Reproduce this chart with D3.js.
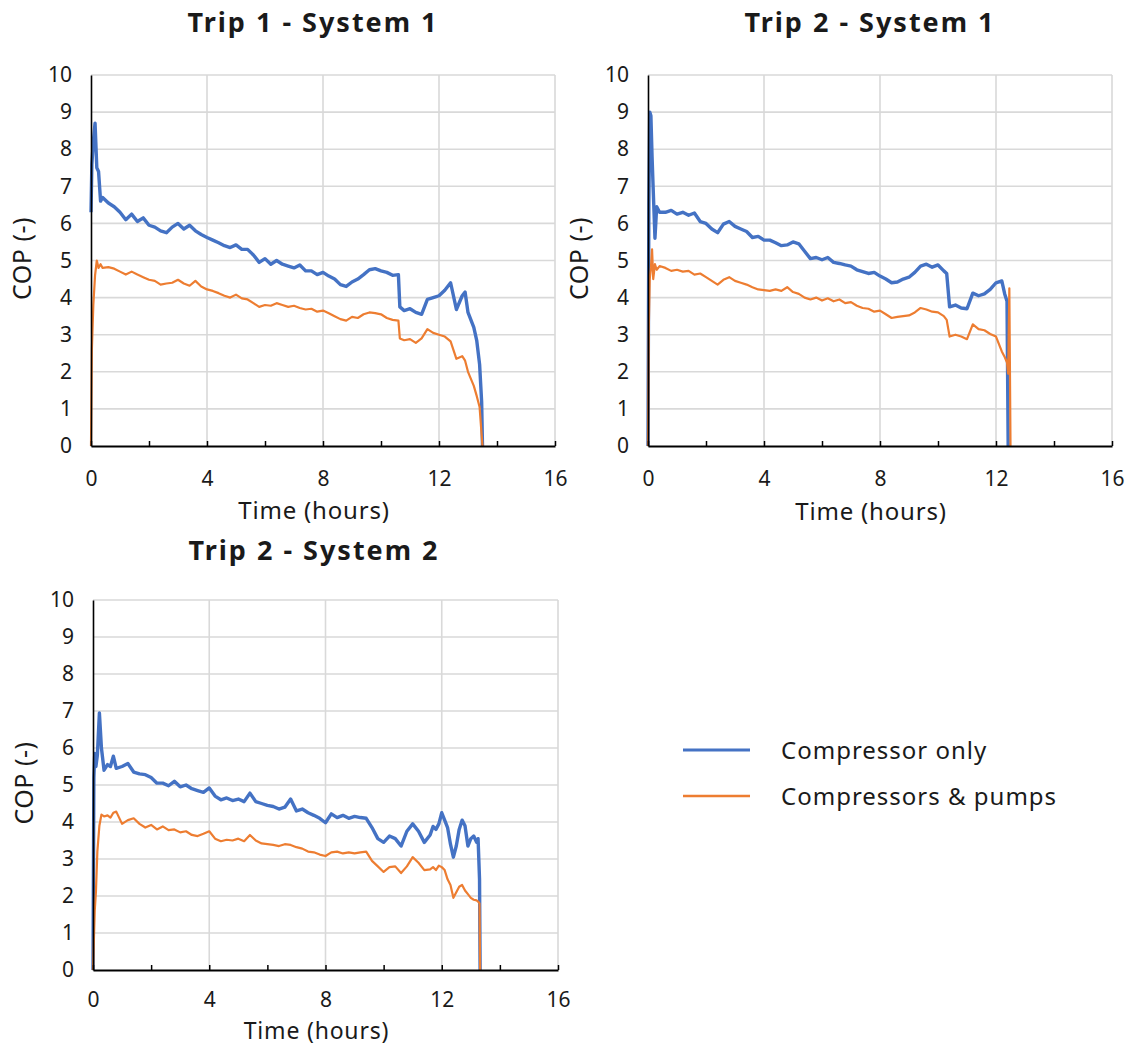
<!DOCTYPE html>
<html>
<head>
<meta charset="utf-8">
<script src="https://cdn.jsdelivr.net/npm/d3@7"></script>
<style>
  body { margin: 0; background: #fff; }
  svg { display: block; }
  text { font-family: "Noto Sans", "Open Sans", sans-serif; fill: #1a1a1a; }
</style>
</head>
<body>
<svg id="chart" width="1128" height="1047"></svg>
<script>
// ---------------- DATA ----------------
const seriesNames = ["Compressor only", "Compressors & pumps"];
const xTickValues = [0, 2, 4, 6, 8, 10, 12, 14, 16];
const xLabelValues = [0, 4, 8, 12, 16];
const yTickValues = [0, 1, 2, 3, 4, 5, 6, 7, 8, 9, 10];

// Trip 1 - System 1
const trip1Sys1Time = [
  0, 0.03, 0.08, 0.14, 0.2, 0.26, 0.33, 0.4, 0.6, 0.8,
  1.0, 1.2, 1.4, 1.6, 1.8, 2.0, 2.2, 2.4, 2.6, 2.8,
  3.0, 3.2, 3.4, 3.6, 3.8, 4.0, 4.2, 4.4, 4.6, 4.8,
  5.0, 5.2, 5.4, 5.6, 5.8, 6.0, 6.2, 6.4, 6.6, 6.8,
  7.0, 7.2, 7.4, 7.6, 7.8, 8.0, 8.2, 8.4, 8.6, 8.8,
  9.0, 9.2, 9.4, 9.6, 9.8, 10.0, 10.2, 10.4, 10.6, 10.65,
  10.8, 11.0, 11.2, 11.4, 11.6, 11.8, 12.0, 12.2, 12.4, 12.6,
  12.8, 12.9, 13.0, 13.2, 13.3, 13.4, 13.47, 13.5
];
const trip1Sys1Comp = [
  6.3, 7.6, 8.2, 8.7, 7.5, 7.4, 6.6, 6.7, 6.55, 6.45,
  6.30, 6.10, 6.25, 6.05, 6.15, 5.95, 5.90, 5.80, 5.75, 5.90,
  6.00, 5.85, 5.95, 5.80, 5.70, 5.62, 5.55, 5.48, 5.40, 5.35,
  5.42, 5.30, 5.30, 5.15, 4.95, 5.05, 4.90, 5.00, 4.90, 4.85,
  4.80, 4.88, 4.72, 4.72, 4.62, 4.68, 4.58, 4.50, 4.35, 4.30,
  4.42, 4.50, 4.62, 4.75, 4.78, 4.72, 4.68, 4.60, 4.62, 3.75,
  3.65, 3.70, 3.60, 3.55, 3.95, 4.00, 4.05, 4.20, 4.40, 3.68,
  4.05, 4.15, 3.60, 3.20, 2.85, 2.20, 1.20, 0
];
const trip1Sys1Pump = [
  0, 2.6, 3.8, 4.6, 5.0, 4.8, 4.9, 4.8, 4.82, 4.78,
  4.70, 4.62, 4.70, 4.62, 4.55, 4.48, 4.45, 4.35, 4.38, 4.40,
  4.48, 4.38, 4.32, 4.45, 4.30, 4.22, 4.18, 4.12, 4.05, 4.00,
  4.08, 3.98, 3.95, 3.85, 3.75, 3.80, 3.78, 3.85, 3.80, 3.75,
  3.78, 3.72, 3.68, 3.70, 3.62, 3.65, 3.58, 3.50, 3.42, 3.38,
  3.48, 3.45, 3.55, 3.60, 3.58, 3.55, 3.45, 3.40, 3.38, 2.90,
  2.85, 2.88, 2.78, 2.90, 3.15, 3.05, 3.00, 2.95, 2.82, 2.35,
  2.42, 2.30, 2.00, 1.62, 1.35, 1.05, 0.3, 0
];

// Trip 2 - System 1
const trip2Sys1Time = [
  0, 0.03, 0.06, 0.1, 0.14, 0.18, 0.24, 0.3, 0.4, 0.6,
  0.8, 1.0, 1.2, 1.4, 1.6, 1.8, 2.0, 2.2, 2.4, 2.6,
  2.8, 3.0, 3.2, 3.4, 3.6, 3.8, 4.0, 4.2, 4.4, 4.6,
  4.8, 5.0, 5.2, 5.4, 5.6, 5.8, 6.0, 6.2, 6.4, 6.6,
  6.8, 7.0, 7.2, 7.4, 7.6, 7.8, 8.0, 8.2, 8.4, 8.6,
  8.8, 9.0, 9.2, 9.4, 9.6, 9.8, 10.0, 10.2, 10.3, 10.4,
  10.6, 10.8, 11.0, 11.2, 11.4, 11.6, 11.8, 12.0, 12.2, 12.3,
  12.38, 12.42, 12.46, 12.5
];
const trip2Sys1Comp = [
  0, 6.5, 9.0, 8.9, 7.8, 6.9, 5.6, 6.45, 6.3, 6.30,
  6.35, 6.25, 6.30, 6.22, 6.28, 6.05, 6.00, 5.85, 5.75, 5.98,
  6.05, 5.92, 5.85, 5.78, 5.62, 5.65, 5.55, 5.55, 5.48, 5.40,
  5.42, 5.50, 5.45, 5.25, 5.05, 5.08, 5.02, 5.08, 4.95, 4.92,
  4.88, 4.85, 4.75, 4.70, 4.65, 4.68, 4.58, 4.50, 4.40, 4.42,
  4.50, 4.55, 4.68, 4.85, 4.90, 4.82, 4.88, 4.72, 4.65, 3.75,
  3.80, 3.72, 3.70, 4.12, 4.05, 4.10, 4.22, 4.40, 4.45, 4.10,
  3.90, 0, null, null
];
const trip2Sys1Pump = [
  0, 3.3, 4.5, 4.8, 5.3, 4.5, 4.9, 4.75, 4.85, 4.80,
  4.72, 4.75, 4.70, 4.72, 4.62, 4.65, 4.55, 4.45, 4.35, 4.48,
  4.55, 4.45, 4.40, 4.35, 4.28, 4.22, 4.20, 4.18, 4.22, 4.18,
  4.28, 4.15, 4.10, 4.00, 3.95, 4.00, 3.92, 3.98, 3.90, 3.95,
  3.85, 3.88, 3.78, 3.72, 3.70, 3.62, 3.65, 3.55, 3.45, 3.48,
  3.50, 3.52, 3.60, 3.72, 3.68, 3.62, 3.60, 3.50, 3.40, 2.95,
  3.00, 2.95, 2.88, 3.28, 3.15, 3.12, 3.02, 2.95, 2.55, 2.40,
  2.25, 1.95, 4.25, 0
];

// Trip 2 - System 2
const trip2Sys2Time = [
  0, 0.03, 0.06, 0.1, 0.15, 0.22, 0.29, 0.38, 0.5, 0.6,
  0.7, 0.8, 1.0, 1.2, 1.4, 1.6, 1.8, 2.0, 2.2, 2.4,
  2.6, 2.8, 3.0, 3.2, 3.4, 3.6, 3.8, 4.0, 4.2, 4.4,
  4.6, 4.8, 5.0, 5.2, 5.4, 5.6, 5.8, 6.0, 6.2, 6.4,
  6.6, 6.8, 7.0, 7.2, 7.4, 7.6, 7.8, 8.0, 8.2, 8.4,
  8.6, 8.8, 9.0, 9.2, 9.4, 9.6, 9.8, 10.0, 10.2, 10.4,
  10.6, 10.8, 11.0, 11.2, 11.4, 11.6, 11.7, 11.8, 11.9, 12.0,
  12.1, 12.2, 12.3, 12.4, 12.5, 12.6, 12.7, 12.8, 12.9, 13.0,
  13.1, 13.2, 13.25, 13.3, 13.32
];
const trip2Sys2Comp = [
  0, 5.2, 5.85, 5.5, 5.8, 6.95, 6.0, 5.4, 5.55, 5.5,
  5.78, 5.45, 5.50, 5.58, 5.35, 5.30, 5.28, 5.20, 5.05, 5.05,
  4.98, 5.10, 4.95, 5.00, 4.90, 4.85, 4.80, 4.92, 4.70, 4.60,
  4.65, 4.58, 4.62, 4.55, 4.78, 4.55, 4.50, 4.45, 4.42, 4.35,
  4.40, 4.62, 4.30, 4.35, 4.25, 4.18, 4.10, 3.98, 4.22, 4.12,
  4.18, 4.10, 4.15, 4.12, 4.10, 3.85, 3.55, 3.45, 3.62, 3.55,
  3.35, 3.75, 3.95, 3.75, 3.45, 3.65, 3.88, 3.80, 3.95, 4.25,
  4.05, 3.85, 3.40, 3.05, 3.35, 3.80, 4.05, 3.90, 3.35, 3.55,
  3.62, 3.45, 3.55, 2.45, 0
];
const trip2Sys2Pump = [
  0, 0.8, 1.6, 2.1, 3.2, 3.9, 4.2, 4.15, 4.18, 4.12,
  4.25, 4.28, 3.95, 4.05, 4.10, 3.95, 3.85, 3.92, 3.80, 3.88,
  3.78, 3.80, 3.72, 3.75, 3.65, 3.62, 3.68, 3.75, 3.55, 3.48,
  3.52, 3.50, 3.55, 3.48, 3.65, 3.50, 3.42, 3.40, 3.38, 3.35,
  3.40, 3.38, 3.32, 3.28, 3.20, 3.18, 3.12, 3.08, 3.18, 3.20,
  3.15, 3.18, 3.15, 3.18, 3.20, 2.95, 2.80, 2.65, 2.78, 2.80,
  2.62, 2.80, 3.05, 2.90, 2.70, 2.72, 2.78, 2.70, 2.82, 2.78,
  2.70, 2.45, 2.30, 1.95, 2.10, 2.25, 2.30, 2.15, 2.05, 1.95,
  1.90, 1.88, 1.85, 1.80, 0
];

// ---------------- LAYOUT ----------------
const colors = ["#4472C4", "#ED7D31"];
const strokeWidths = [3.4, 2.2];
const fontStack = '"Noto Sans", "Open Sans", sans-serif';

const panels = [
  { title: "Trip 1 - System 1", time: trip1Sys1Time, series: [trip1Sys1Comp, trip1Sys1Pump],
    left: 91, right: 555, top: 75, bottom: 446, titleX: 313, titleY: 32, xTitleY: 519, xTitleSize: 24, tickPad: 25 },
  { title: "Trip 2 - System 1", time: trip2Sys1Time, series: [trip2Sys1Comp, trip2Sys1Pump],
    left: 648, right: 1112, top: 75, bottom: 446, titleX: 870, titleY: 32, xTitleY: 520, xTitleSize: 24, tickPad: 25 },
  { title: "Trip 2 - System 2", time: trip2Sys2Time, series: [trip2Sys2Comp, trip2Sys2Pump],
    left: 93, right: 558, top: 600, bottom: 970, titleX: 314, titleY: 560, xTitleY: 1039, xTitleSize: 23, tickPad: 22 }
];

const svg = d3.select("#chart");

panels.forEach(p => {
  const x = d3.scaleLinear().domain([0, 16]).range([p.left, p.right]);
  const y = d3.scaleLinear().domain([0, 10]).range([p.bottom, p.top]);
  const g = svg.append("g");

  // gridlines
  g.append("g").selectAll("line").data(yTickValues.filter(v => v > 0)).join("line")
    .attr("x1", p.left).attr("x2", p.right)
    .attr("y1", d => y(d)).attr("y2", d => y(d))
    .attr("stroke", "#d9d9d9").attr("stroke-width", 1.6);
  g.append("g").selectAll("line").data(xLabelValues.filter(v => v > 0)).join("line")
    .attr("x1", d => x(d)).attr("x2", d => x(d))
    .attr("y1", p.top).attr("y2", p.bottom)
    .attr("stroke", "#d9d9d9").attr("stroke-width", 1.6);

  // series lines
  p.series.forEach((vals, i) => {
    const pts = p.time.map((t, k) => [t, vals[k]]);
    const line = d3.line()
      .defined(d => d[1] !== null && d[1] !== undefined)
      .x(d => x(d[0])).y(d => y(d[1]));
    g.append("path").datum(pts)
      .attr("fill", "none")
      .attr("stroke", colors[i])
      .attr("stroke-width", strokeWidths[i])
      .attr("stroke-linejoin", "round")
      .attr("d", line);
  });

  // y axis
  const yAxis = d3.axisLeft(y).tickValues(yTickValues).tickSize(0).tickPadding(19);
  const ya = g.append("g").attr("transform", `translate(${p.left},0)`).call(yAxis);
  ya.select(".domain").attr("stroke", "#000").attr("stroke-width", 1.6);
  ya.selectAll("text").attr("font-size", 21).attr("fill", "#222")
    .style("font-family", fontStack);

  // x axis
  const xAxis = d3.axisBottom(x).tickValues(xTickValues)
    .tickSizeInner(-5).tickSizeOuter(0).tickPadding(p.tickPad)
    .tickFormat(d => xLabelValues.includes(d) ? String(d) : "");
  const xa = g.append("g").attr("transform", `translate(0,${p.bottom})`).call(xAxis);
  xa.select(".domain").attr("stroke", "#000").attr("stroke-width", 1.8);
  xa.selectAll(".tick line").attr("stroke", "#000").attr("stroke-width", 1.5);
  xa.selectAll("text").attr("font-size", 21).attr("fill", "#222")
    .style("font-family", fontStack);

  // titles
  g.append("text").attr("x", p.titleX).attr("y", p.titleY)
    .attr("text-anchor", "middle").attr("font-size", 27).attr("font-weight", "bold")
    .attr("letter-spacing", 2).attr("fill", "#000").text(p.title);
  g.append("text").attr("x", (p.left + p.right) / 2 - 9).attr("y", p.xTitleY)
    .attr("text-anchor", "middle").attr("font-size", p.xTitleSize).attr("letter-spacing", 0.8)
    .text("Time (hours)");
  g.append("text")
    .attr("transform", `translate(${p.left - 60},${(p.top + p.bottom) / 2 - 2}) rotate(-90)`)
    .attr("text-anchor", "middle").attr("font-size", 25).attr("letter-spacing", 0.5)
    .text("COP (-)");
});

// legend
const legend = svg.append("g");
const legendY = [750, 796];
seriesNames.forEach((name, i) => {
  legend.append("line").attr("x1", 683).attr("x2", 750)
    .attr("y1", legendY[i]).attr("y2", legendY[i])
    .attr("stroke", colors[i]).attr("stroke-width", i === 0 ? 3 : 2.5);
  legend.append("text").attr("x", 781).attr("y", legendY[i] + 9)
    .attr("font-size", 24).attr("letter-spacing", 1).text(name);
});
</script>
</body>
</html>
